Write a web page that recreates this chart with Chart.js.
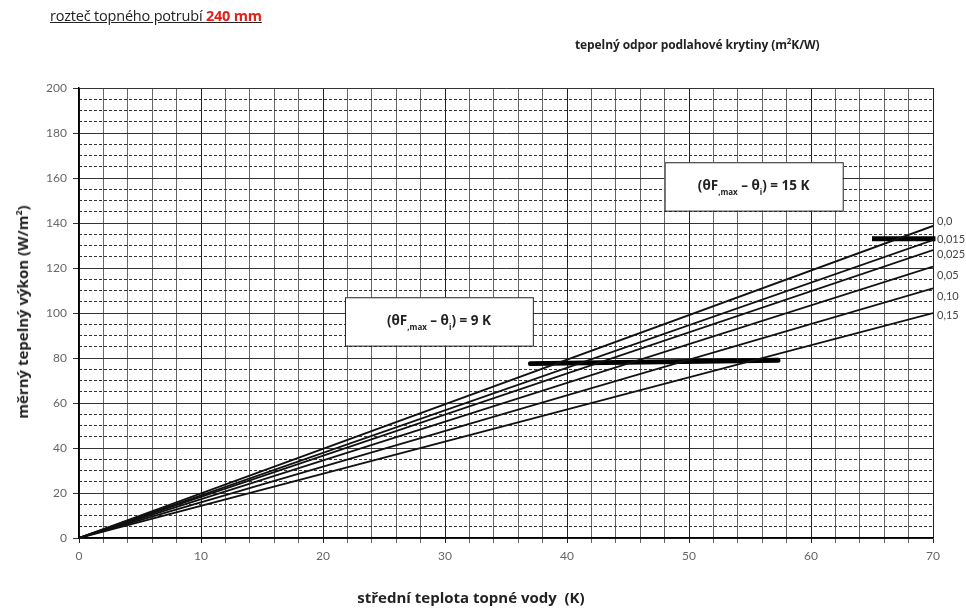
<!DOCTYPE html>
<html>
<head>
<meta charset="utf-8">
<script src="https://cdn.jsdelivr.net/npm/chart.js@4/dist/chart.umd.min.js"></script>
<style>
  body{margin:0;background:#fff;}
  #wrap{position:relative;width:966px;height:608px;}
  #chart{position:absolute;left:0;top:0;}
  .t{position:absolute;font-family:"Open Sans",sans-serif;color:#222;white-space:nowrap;}
  #title{left:50px;top:6px;font-size:14.5px;text-decoration:underline;letter-spacing:-0.2px;}
  #title b{color:#e0201b;}
  #rtitle{left:575px;top:35px;font-size:12px;font-weight:bold;letter-spacing:-0.1px;}
  #ytitle{left:22px;top:312px;font-size:15px;font-weight:bold;transform:translate(-50%,-50%) rotate(-90deg);}
  #xtitle{left:471px;top:597px;font-size:15px;font-weight:bold;transform:translate(-50%,-50%);}
</style>
</head>
<body>
<div id="wrap">
  <canvas id="chart" width="966" height="608"></canvas>
  <div class="t" id="title">rozteč topného potrubí <b>240 mm</b></div>
  <div class="t" id="rtitle">tepelný odpor podlahové krytiny (m<sup style="font-size:8px">2</sup>K/W)</div>
  <div class="t" id="ytitle">měrný tepelný výkon (W/m<sup style="font-size:9px">2</sup>)</div>
  <div class="t" id="xtitle">střední teplota topné vody&nbsp; (K)</div>
</div>
<script>
// data
const waterTemp = [0, 70];            // K
const resistLabels = ["0,0", "0,015", "0,025", "0,05", "0,10", "0,15"];
const r000 = [0, 138.7];
const r015 = [0, 132.4];
const r025 = [0, 128];
const r050 = [0, 120.6];
const r100 = [0, 111];
const r150 = [0, 100];
const series = [r000, r015, r025, r050, r100, r150];

// limit marks (thick bars)
const limit9X = [37, 57.3];
const limit9Y = [77.5, 79];
const limit15X = [65, 70.2];
const limit15Y = [133, 133];

// layout only: label heights and note boxes
const labelY = [140.6, 132.9, 125.8, 116.9, 107.2, 99];
const noteBoxes = [
    {x0:48, x1:62.6, y0:145.5, y1:167, val:"15 K"},
    {x0:21.8, x1:37.2, y0:85.5, y1:107, val:"9 K"}
];

let datasets = series.map(function(s){
    return {
        data: waterTemp.map(function(x, i){ return {x:x, y:s[i]}; }),
        borderColor:"#111",
        borderWidth:1.8
    };
});
datasets.push({
    data: limit9X.map(function(x, i){ return {x:x, y:limit9Y[i]}; }),
    borderColor:"#000", borderWidth:5, borderCapStyle:"round", clip:false
});
datasets.push({
    data: limit15X.map(function(x, i){ return {x:x, y:limit15Y[i]}; }),
    borderColor:"#000", borderWidth:5, clip:false
});

const annot = {
    id:"annot",
    beforeDatasetsDraw(chart){
        const c = chart.ctx, xs = chart.scales.x, ys = chart.scales.y;
        c.save();
        noteBoxes.forEach(function(b){
            const l = xs.getPixelForValue(b.x0), r = xs.getPixelForValue(b.x1);
            const t = ys.getPixelForValue(b.y1), bt = ys.getPixelForValue(b.y0);
            c.fillStyle = "#fff";
            c.fillRect(l, t, r - l, bt - t);
            c.strokeStyle = "#222";
            c.lineWidth = 1;
            c.strokeRect(l + 0.5, t + 0.5, r - l, bt - t);
            // text with subscripts
            const big = "bold 13.5px 'Open Sans', sans-serif";
            const small = "bold 8px 'Open Sans', sans-serif";
            const parts = [
                ["(θF", big, 0], [",max", small, 5], [" – θ", big, 0], ["i", small, 5], [") = " + b.val, big, 0]
            ];
            let w = 0;
            parts.forEach(function(p){ c.font = p[1]; w += c.measureText(p[0]).width; });
            let x = (l + r) / 2 - w / 2;
            const y = (t + bt) / 2 + 4;
            c.fillStyle = "#222";
            c.textBaseline = "alphabetic";
            parts.forEach(function(p){
                c.font = p[1];
                c.fillText(p[0], x, y + p[2]);
                x += c.measureText(p[0]).width;
            });
        });
        c.restore();
    },
    afterDraw(chart){
        const c = chart.ctx, ys = chart.scales.y;
        c.save();
        c.font = "11px Lato, sans-serif";
        c.fillStyle = "#444";
        c.textBaseline = "middle";
        resistLabels.forEach(function(lab, i){
            c.fillText(lab, chart.chartArea.right + 4, ys.getPixelForValue(labelY[i]));
        });
        c.restore();
    }
};

new Chart(document.getElementById("chart"), {
    type:"line",
    data:{ datasets:datasets },
    plugins:[annot],
    options:{
        responsive:false,
        animation:false,
        layout:{ padding:{ left:0, top:88, right:33, bottom:0 } },
        elements:{ point:{ radius:0 }, line:{ tension:0 } },
        plugins:{ legend:{ display:false }, tooltip:{ enabled:false } },
        scales:{
            x:{
                type:"linear", min:0, max:70,
                afterFit:function(s){ s.height = 70; },
                ticks:{
                    stepSize:2, autoSkip:false, maxRotation:0,
                    color:"#666", font:{ family:"Lato", size:12 }, padding:6,
                    callback:function(v){ return v % 10 === 0 ? v : ""; }
                },
                grid:{
                    color:function(ctx){ return ctx.tick && ctx.tick.value % 10 === 0 ? "#222" : "#666"; },
                    lineWidth:1, tickLength:5
                },
                border:{ color:"#000", width:1.5 }
            },
            y:{
                min:0, max:200,
                afterFit:function(s){ s.width = 79; },
                ticks:{ stepSize:20, color:"#666", font:{ family:"Lato", size:12 }, padding:6 },
                grid:{ color:"#333", lineWidth:1, tickLength:6 },
                border:{ color:"#000", width:1.5 }
            },
            y2:{
                position:"left", min:0, max:200,
                afterFit:function(s){ s.width = 0; },
                ticks:{ stepSize:5, display:false },
                grid:{
                    drawTicks:false,
                    color:function(ctx){ return ctx.tick && ctx.tick.value % 20 === 0 ? "rgba(0,0,0,0)" : "#333"; }
                },
                border:{ display:false, dash:[3,2] }
            }
        }
    }
});
</script>
</body>
</html>
